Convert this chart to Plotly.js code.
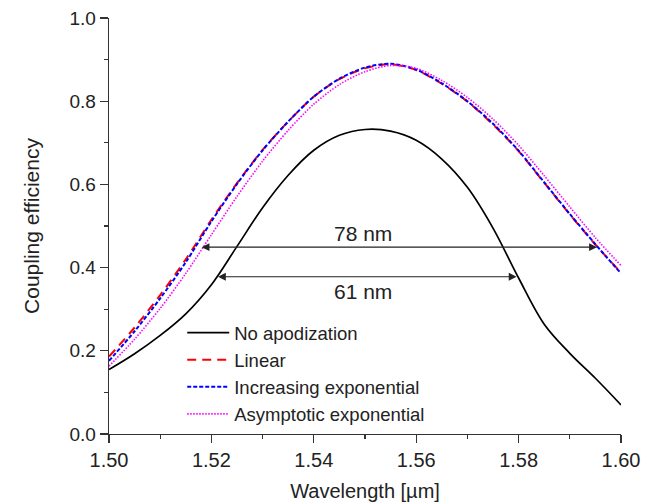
<!DOCTYPE html>
<html>
<head>
<meta charset="utf-8">
<script src="https://cdn.plot.ly/plotly-3.0.1.min.js"></script>
<style>html,body{margin:0;padding:0;background:#fff;}#chart{width:649px;height:502px;}</style>
</head>
<body>
<div id="chart"></div>
<script>
// Wavelength grid (µm)
var wavelength = [1.500,1.505,1.510,1.515,1.520,1.525,1.530,1.535,1.540,1.545,1.550,1.555,1.560,1.565,1.570,1.575,1.580,1.585,1.590,1.595,1.600];

// Coupling efficiency series
var noApodization = [0.155,0.193,0.237,0.289,0.359,0.451,0.544,0.622,0.682,0.718,0.732,0.728,0.706,0.661,0.593,0.495,0.375,0.264,0.194,0.134,0.070];
var linear        = [0.186,0.256,0.334,0.420,0.515,0.603,0.683,0.751,0.811,0.853,0.879,0.889,0.875,0.842,0.799,0.744,0.680,0.604,0.528,0.455,0.388];
var increasingExp = [0.176,0.247,0.326,0.413,0.511,0.601,0.682,0.751,0.811,0.854,0.881,0.890,0.876,0.843,0.800,0.746,0.681,0.605,0.529,0.456,0.386];
var asymptoticExp = [0.163,0.228,0.302,0.386,0.479,0.571,0.656,0.730,0.793,0.840,0.871,0.886,0.879,0.850,0.809,0.757,0.694,0.621,0.546,0.472,0.405];

var seriesNames = ["No apodization","Linear","Increasing exponential","Asymptotic exponential"];

// Bandwidth markers
var bwStart = [1.5178, 1.5210];
var bwEnd   = [1.5953, 1.5796];
var bwLevel = [0.449, 0.378];
var bwLabel = ["78 nm", "61 nm"];
var bwLabelX = [1.5497, 1.5497];
var bwLabelY = [0.482, 0.342];

var xTickVals = [1.50,1.52,1.54,1.56,1.58,1.60];
var xTickText = ["1.50","1.52","1.54","1.56","1.58","1.60"];
var yTickVals = [0.0,0.2,0.4,0.6,0.8,1.0];
var yTickText = ["0.0","0.2","0.4","0.6","0.8","1.0"];

var FONT = "Liberation Sans, Arial, sans-serif";
var TXT = "#222";
var AX = "#333";

var traces = [
  {x: wavelength, y: noApodization, name: seriesNames[0], mode: "lines",
   line: {color: "#000000", width: 1.7, shape: "spline", smoothing: 1}},
  {x: wavelength, y: linear, name: seriesNames[1], mode: "lines",
   line: {color: "#ff0000", width: 2, dash: "9px,6px", shape: "spline", smoothing: 0.8}},
  {x: wavelength, y: increasingExp, name: seriesNames[2], mode: "lines",
   line: {color: "#0000ff", width: 2, dash: "4px,2px", shape: "spline", smoothing: 0.8}},
  {x: wavelength, y: asymptoticExp, name: seriesNames[3], mode: "lines",
   line: {color: "#ff00ff", width: 1.6, dash: "1.5px,1.5px", shape: "spline", smoothing: 0.8}}
];

var annotations = [];
for (var i = 0; i < bwLabel.length; i++) {
  annotations.push({x: bwEnd[i], y: bwLevel[i], ax: bwStart[i], ay: bwLevel[i],
    xref: "x", yref: "y", axref: "x", ayref: "y", text: "", showarrow: true,
    arrowhead: 2, startarrowhead: 2, arrowside: "end+start", arrowsize: 1.3,
    startarrowsize: 1.3, arrowwidth: 1.2, arrowcolor: "#222", standoff: 0, startstandoff: 0});
  annotations.push({x: bwLabelX[i], y: bwLabelY[i], xref: "x", yref: "y",
    text: bwLabel[i], showarrow: false, font: {family: FONT, size: 21, color: TXT}});
}

var layout = {
  width: 649, height: 502,
  margin: {l: 109, r: 28, t: 18, b: 68},
  paper_bgcolor: "#ffffff", plot_bgcolor: "#ffffff",
  showlegend: true,
  legend: {x: 0.143, y: 0.288, xanchor: "left", yanchor: "top", itemwidth: 42,
           bgcolor: "rgba(0,0,0,0)", font: {family: FONT, size: 18.5, color: TXT},
           tracegroupgap: 0},
  xaxis: {range: [1.5, 1.6], tickvals: xTickVals, ticktext: xTickText,
          ticks: "outside", ticklen: 8, tickwidth: 1.2, tickcolor: AX,
          minor: {dtick: 0.01, tick0: 1.5, ticks: "outside", ticklen: 4, tickwidth: 1.2, tickcolor: AX, showgrid: false},
          showline: true, linecolor: AX, linewidth: 1.3, showgrid: false, zeroline: false,
          tickfont: {family: FONT, size: 20, color: TXT},
          title: {text: "Wavelength [µm]", font: {family: FONT, size: 20, color: TXT}, standoff: 16}},
  yaxis: {range: [0, 1], tickvals: yTickVals, ticktext: yTickText,
          ticks: "outside", ticklen: 8, tickwidth: 1.2, tickcolor: AX,
          minor: {dtick: 0.1, tick0: 0, ticks: "outside", ticklen: 4, tickwidth: 1.2, tickcolor: AX, showgrid: false},
          showline: true, linecolor: AX, linewidth: 1.3, showgrid: false, zeroline: false,
          tickfont: {family: FONT, size: 19, color: TXT},
          title: {text: "Coupling efficiency", font: {family: FONT, size: 21, color: TXT}, standoff: 24}},
  xaxis2: {overlaying: "x", side: "top", anchor: "y", range: [1.5, 1.6],
           tickvals: xTickVals, showticklabels: false,
           ticks: "inside", ticklen: 8, tickwidth: 1.2, tickcolor: AX,
           minor: {dtick: 0.01, tick0: 1.5, ticks: "inside", ticklen: 4, tickwidth: 1.2, tickcolor: AX, showgrid: false},
           showline: true, linecolor: AX, linewidth: 1.3, showgrid: false, zeroline: false},
  yaxis2: {overlaying: "y", side: "right", anchor: "x", range: [0, 1],
           tickvals: yTickVals, showticklabels: false,
           ticks: "inside", ticklen: 8, tickwidth: 1.2, tickcolor: AX,
           minor: {dtick: 0.1, tick0: 0, ticks: "inside", ticklen: 4, tickwidth: 1.2, tickcolor: AX, showgrid: false},
           showline: true, linecolor: AX, linewidth: 1.3, showgrid: false, zeroline: false},
  annotations: annotations
};

Plotly.newPlot("chart", traces, layout, {staticPlot: true, displayModeBar: false});
</script>
</body>
</html>
